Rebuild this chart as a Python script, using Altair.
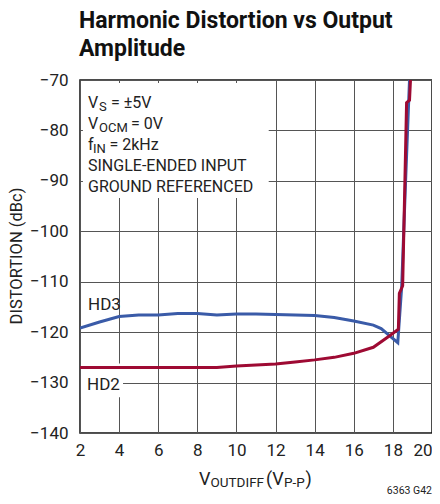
import altair as alt
import pandas as pd

# ---- data ----
hd3_x = [2, 3, 4, 5, 6, 7, 8, 9, 10, 11, 12, 13, 14, 15, 16, 17, 17.4, 18.25, 18.45, 18.65, 18.85]
hd3_y = [-119.2, -118.0, -116.9, -116.6, -116.6, -116.3, -116.3, -116.6, -116.4, -116.4, -116.5,
         -116.6, -116.7, -117.1, -117.8, -118.6, -119.3, -122.1, -111.0, -90.0, -70.0]

hd2_x = [2, 4, 6, 8, 9, 10, 11, 12, 13, 14, 15, 16, 17, 17.8, 18.28, 18.33, 18.5, 18.7, 18.85, 18.9]
hd2_y = [-127.0, -127.0, -127.0, -127.0, -127.0, -126.7, -126.5, -126.3, -125.9, -125.5, -125.0,
         -124.2, -123.0, -120.8, -119.4, -112.3, -110.8, -74.5, -74.0, -70.0]

x_ticks = [2, 4, 6, 8, 10, 12, 14, 16, 18, 20]
y_ticks = [-140, -130, -120, -110, -100, -90, -80, -70]

title_lines = ["Harmonic Distortion vs Output", "Amplitude"]
series_names = ["HD3", "HD2"]
series_colors = ["#3A5BA8", "#9E0A33"]

# white boxes behind the text (data coordinates)
box_x0 = [2.15, 2.05]
box_x1 = [11.65, 4.2]
box_y0 = [-70.6, -126.2]
box_y1 = [-93.4, -132.9]

FONT = "Roboto, Liberation Sans, sans-serif"

W, H = 352, 353

xscale = alt.Scale(domain=[2, 20], nice=False, zero=False)
yscale = alt.Scale(domain=[-140, -70], nice=False, zero=False)

hd3 = pd.DataFrame({"x": hd3_x, "y": hd3_y})
hd2 = pd.DataFrame({"x": hd2_x, "y": hd2_y})
boxes = pd.DataFrame({"x": box_x0, "x2": box_x1, "y": box_y0, "y2": box_y1})

axis_x = alt.Axis(values=x_ticks, grid=True, gridColor="#555", gridWidth=1, domain=False,
                  ticks=False, labelFont=FONT, labelFontSize=17, labelColor="#222",
                  labelPadding=9, labelOverlap=False, labelFlush=False, title=None,
                  labelAlign={"condition": {"test": "datum.value >= 20", "value": "right"},
                              "value": "center"})
axis_y = alt.Axis(values=y_ticks, grid=True, gridColor="#555", gridWidth=1, domain=False,
                  ticks=False, labelFont=FONT, labelFontSize=17, labelColor="#222",
                  labelPadding=12, labelOverlap=False, labelFlush=False, title=None,
                  labelExpr="datum.value < 0 ? '\u2212' + abs(datum.value) : '' + datum.value")

X = alt.X("x:Q", scale=xscale, axis=axis_x)
Y = alt.Y("y:Q", scale=yscale, axis=axis_y)

rects = alt.Chart(boxes).mark_rect(fill="white").encode(x=X, x2="x2:Q", y=Y, y2="y2:Q")

line3 = alt.Chart(hd3).mark_line(strokeWidth=3, color=series_colors[0], clip=True).encode(x=X, y=Y)
line2 = alt.Chart(hd2).mark_line(strokeWidth=3, color=series_colors[1], clip=True).encode(x=X, y=Y)


def txt(s, x, y, size=16, weight="normal", align="left", angle=0, baseline="alphabetic", color="#222"):
    kw = dict(text=s, font=FONT, fontSize=size, fontWeight=weight, align=align,
              baseline=baseline, color=color)
    if angle:
        kw["angle"] = angle
    return alt.Chart(pd.DataFrame({"t": [s]})).mark_text(**kw).encode(
        x=alt.value(x), y=alt.value(y))


texts = [
    # title
    txt(title_lines[0], -1, -52, size=23, weight="bold", color="#111"),
    txt(title_lines[1], -1, -24, size=23, weight="bold", color="#111"),
    # condition block
    txt("V", 8, 28), txt("S", 19, 31, size=13), txt("= \u00b15V", 31, 28),
    txt("V", 8, 48.5), txt("OCM", 19, 51.5, size=13), txt("= 0V", 51, 48.5),
    txt("f", 8, 70), txt("IN", 13, 73, size=13), txt("= 2kHz", 29.5, 70),
    txt("SINGLE-ENDED INPUT", 8, 90.5),
    txt("GROUND REFERENCED", 8, 111.5),
    # series labels
    txt(series_names[0], 8, 230, size=17), txt(series_names[1], 7, 310, size=17),
    # x title
    txt("V", 119, 405, size=18), txt("OUTDIFF", 130.5, 407, size=13.5),
    txt("(V", 186, 405, size=18), txt("P-P", 204, 407, size=13.5), txt(")", 225.5, 405, size=18),
    # y title
    txt("DISTORTION (dBc)", -63, 176, size=16.5, angle=270, align="center", baseline="middle"),
    # figure id
    txt("6363 G42", 352, 414, size=10.5, align="right"),
]

chart = alt.layer(rects, line3, line2, *texts).properties(
    width=W, height=H,
    autosize=alt.AutoSizeParams(type="none"),
    padding={"left": 72, "top": 72, "right": 0, "bottom": 63},
).configure_view(stroke="#111", strokeWidth=1.5)

chart.save("out.html", embed_options={"renderer": "svg", "actions": False})
